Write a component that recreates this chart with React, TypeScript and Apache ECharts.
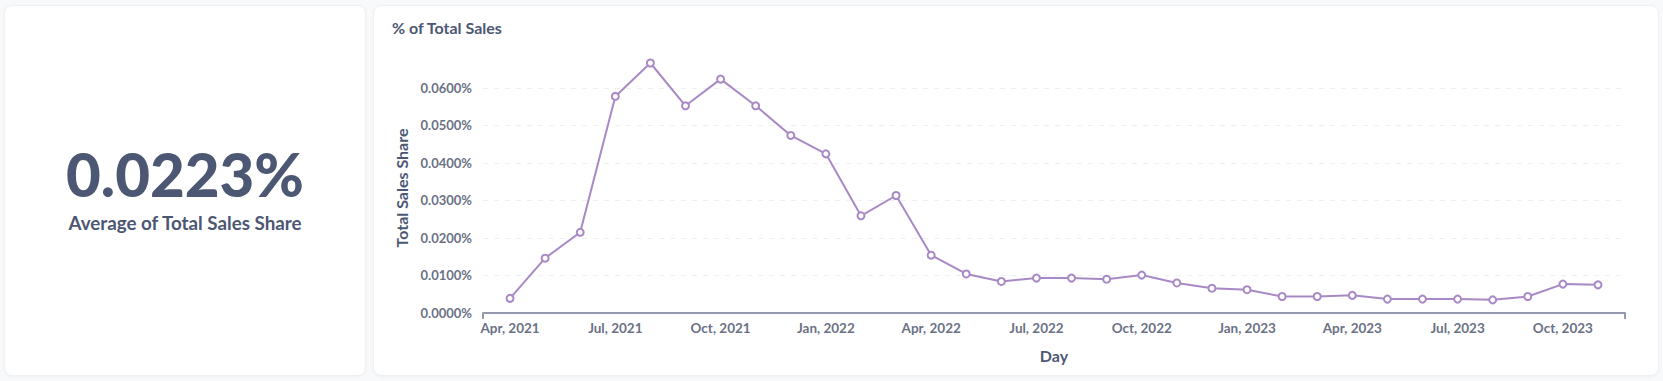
import React, { useEffect, useRef } from "react";
import * as echarts from "echarts";

// ---- data ----
const months: string[] = [
  "Apr, 2021", "May, 2021", "Jun, 2021", "Jul, 2021", "Aug, 2021", "Sep, 2021",
  "Oct, 2021", "Nov, 2021", "Dec, 2021", "Jan, 2022", "Feb, 2022", "Mar, 2022",
  "Apr, 2022", "May, 2022", "Jun, 2022", "Jul, 2022", "Aug, 2022", "Sep, 2022",
  "Oct, 2022", "Nov, 2022", "Dec, 2022", "Jan, 2023", "Feb, 2023", "Mar, 2023",
  "Apr, 2023", "May, 2023", "Jun, 2023", "Jul, 2023", "Aug, 2023", "Sep, 2023",
  "Oct, 2023", "Nov, 2023",
];
// Total Sales Share, in percent
const shareValues: number[] = [
  0.0039, 0.0146, 0.0215, 0.0577, 0.0666, 0.0552,
  0.0623, 0.0552, 0.0473, 0.0424, 0.0259, 0.0313,
  0.0154, 0.0104, 0.0084, 0.0093, 0.0093, 0.0090,
  0.0101, 0.0080, 0.0066, 0.0062, 0.0044, 0.0044,
  0.0047, 0.0037, 0.0037, 0.0037, 0.0035, 0.0044,
  0.0077, 0.0075,
];
const labelMonthIndexes: number[] = [0, 3, 6, 9, 12, 15, 18, 21, 24, 27, 30];
const yTicks: number[] = [0, 0.01, 0.02, 0.03, 0.04, 0.05, 0.06];
const kpiValue = "0.0223%";
const kpiLabel = "Average of Total Sales Share";
const chartTitle = "% of Total Sales";
const yName = "Total Sales Share";
const xName = "Day";

const FONT = "Lato, 'Noto Sans', sans-serif";
const DARK = "#4C5773";
const LABEL = "#6B7185";
const LINE = "#A989C5";
const AXIS = "#9499AE";
const PAD = 0.77;

export default function App() {
  const ref = useRef<HTMLDivElement>(null);

  useEffect(() => {
    if (!ref.current) return;
    const chart = echarts.init(ref.current, undefined, { renderer: "svg" });
    const data = shareValues.map((v, i) => [i, v]);
    chart.setOption({
      animation: false,
      textStyle: { fontFamily: FONT },
      graphic: [
        {
          type: "text",
          x: 185,
          y: 174,
          style: {
            text: kpiValue,
            fontFamily: FONT,
            fontSize: 60,
            fontWeight: 900,
            fill: DARK,
            align: "center",
            verticalAlign: "middle",
          },
        },
        {
          type: "text",
          x: 185,
          y: 222,
          style: {
            text: kpiLabel,
            fontFamily: FONT,
            fontSize: 18.8,
            fontWeight: "bold",
            fill: DARK,
            align: "center",
            verticalAlign: "middle",
          },
        },
        {
          type: "text",
          x: 392,
          y: 27,
          style: {
            text: chartTitle,
            fontFamily: FONT,
            fontSize: 16,
            fontWeight: "bold",
            fill: DARK,
            align: "left",
            verticalAlign: "middle",
          },
        },
      ],
      grid: { left: 483, right: 38, top: 63, bottom: 68, containLabel: false },
      xAxis: {
        type: "value",
        min: -PAD,
        max: months.length - 1 + PAD,
        axisLine: { show: true, onZero: false, lineStyle: { color: AXIS, width: 2 } },
        axisTick: {
          show: true,
          customValues: [-PAD, months.length - 1 + PAD],
          length: 6,
          lineStyle: { color: AXIS, width: 2 },
        },
        axisLabel: {
          customValues: labelMonthIndexes,
          formatter: (v: number) => months[Math.round(v)] ?? "",
          color: LABEL,
          fontFamily: FONT,
          fontSize: 13.5,
          fontWeight: "bold",
          margin: 8,
        },
        splitLine: { show: false },
        name: xName,
        nameLocation: "middle",
        nameGap: 34,
        nameTextStyle: { color: DARK, fontFamily: FONT, fontSize: 16, fontWeight: "bold" },
      },
      yAxis: {
        type: "value",
        min: 0,
        max: "dataMax",
        axisLine: { show: false },
        axisTick: { show: false },
        axisLabel: {
          customValues: yTicks,
          formatter: (v: number) => v.toFixed(4) + "%",
          color: LABEL,
          fontFamily: FONT,
          fontSize: 13,
          fontWeight: "bold",
          margin: 11,
        },
        splitLine: {
          show: true,
          showMinLine: false,
          showMaxLine: false,
          lineStyle: { color: "#EDEFF2", type: [5, 6], width: 1 },
        },
        interval: 0.01,
        name: yName,
        nameLocation: "middle",
        nameGap: 71,
        nameTextStyle: { color: DARK, fontFamily: FONT, fontSize: 16, fontWeight: "bold" },
      },
      series: [
        {
          type: "line",
          data,
          symbol: "circle",
          symbolSize: 7,
          showSymbol: true,
          lineStyle: { color: LINE, width: 2 },
          itemStyle: { color: "#ffffff", borderColor: LINE, borderWidth: 2 },
          emphasis: { disabled: true },
        },
      ],
    });
    return () => chart.dispose();
  }, []);

  const card: React.CSSProperties = {
    position: "absolute",
    background: "#ffffff",
    borderRadius: 8,
    border: "1px solid #EEF0F3",
    boxShadow: "0 1px 3px rgba(0,0,0,0.04)",
    boxSizing: "border-box",
  };

  return (
    <div
      style={{
        position: "fixed",
        left: 0,
        top: 0,
        width: 1663,
        height: 381,
        background: "#F8F9FB",
        overflow: "hidden",
      }}
    >
      <div style={{ ...card, left: 4, top: 5, width: 362, height: 371 }} />
      <div style={{ ...card, left: 373, top: 5, width: 1286, height: 371 }} />
      <div ref={ref} style={{ position: "absolute", left: 0, top: 0, width: 1663, height: 381 }} />
    </div>
  );
}
